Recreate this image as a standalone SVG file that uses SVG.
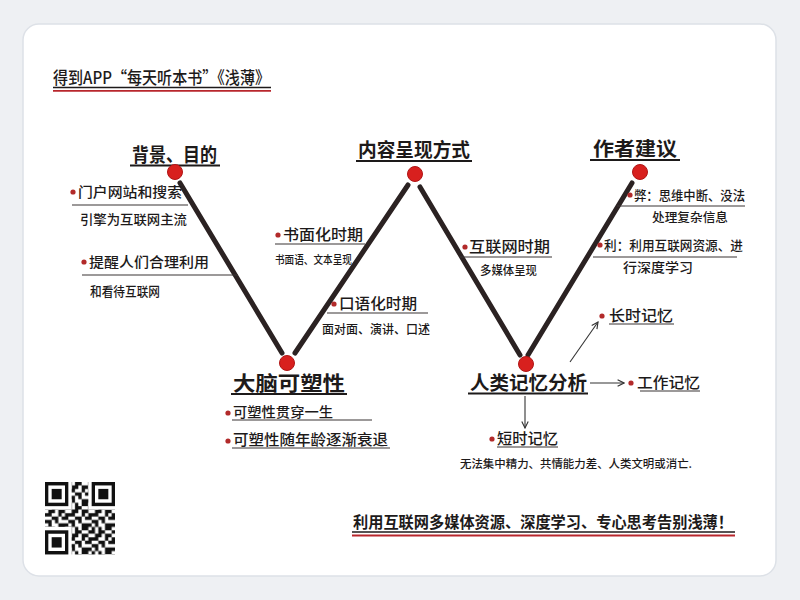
<svg xmlns="http://www.w3.org/2000/svg" width="800" height="600" viewBox="0 0 800 600">
<style>
text{font-family:"Noto Sans CJK SC","Noto Sans",sans-serif;fill:#1d1a1a}
.h{font-size:19px;font-weight:700}
.b{font-size:14px;font-weight:500}
.s{font-size:12px;font-weight:500}
.ul{stroke:#3a3535;stroke-width:1.2;fill:none}
.hul{stroke:#1d1a1a;stroke-width:2;fill:none}
.red{stroke:#b8262c;stroke-width:1.8;fill:none}
.w{stroke:#2b2222;stroke-width:5;stroke-linecap:round;fill:none}
.node{fill:#d8201e;stroke:#b01515;stroke-width:1}
.bul{fill:#b22a2a}
.arr{stroke:#333;stroke-width:1.1;fill:none;marker-end:url(#ah)}
</style>
<defs>
<marker id="ah" viewBox="0 0 10 10" refX="9" refY="5" markerWidth="8" markerHeight="8" markerUnits="userSpaceOnUse" orient="auto">
<path d="M1,1 L9,5 L1,9" fill="none" stroke="#333" stroke-width="1.4"/>
</marker>
<pattern id="qrp" patternUnits="userSpaceOnUse" width="7" height="7">
<path fill="#111" d="M0 0h1v1h-1z M2 0h2v1h-2z M6 0h1v1h-1z M1 1h2v1h-2z M4 1h2v1h-2z M0 2h2v1h-2z M4 2h1v1h-1z M6 2h1v1h-1z M2 3h2v1h-2z M5 3h2v1h-2z M0 4h2v1h-2z M3 4h1v1h-1z M1 5h1v1h-1z M4 5h3v1h-3z M0 6h1v1h-1z M2 6h1v1h-1z M4 6h2v1h-2z"/>
</pattern>
<g id="finder"><rect x="-1" y="-1" width="9" height="9" fill="#fff"/><rect width="7" height="7" fill="#111"/><rect x="1" y="1" width="5" height="5" fill="#fff"/><rect x="2" y="2" width="3" height="3" fill="#111"/></g>
</defs>
<rect width="800" height="600" fill="#eef0f3"/>
<rect x="23" y="24" width="753" height="552" rx="16" fill="#ffffff" stroke="#dde1e7" stroke-width="1.5"/>

<g id="title">
<text x="53" y="84" style="font-size:17px;font-weight:500" textLength="217" lengthAdjust="spacingAndGlyphs">得到APP“每天听本书”《浅薄》</text>
<line class="hul" x1="53" y1="87.5" x2="271" y2="87.5" style="stroke-width:1.5"/>
<line class="red" x1="53" y1="90.8" x2="271" y2="90.8"/>
</g>

<g id="connectors">
<line class="w" x1="180" y1="183" x2="282" y2="353"/>
<line class="w" x1="295" y1="353" x2="408" y2="185"/>
<line class="w" x1="420" y1="187" x2="520" y2="355"/>
<line class="w" x1="528" y1="355" x2="632" y2="183"/>
<line class="arr" x1="570" y1="362" x2="598" y2="322"/>
<line class="arr" x1="590" y1="383" x2="624" y2="383"/>
<line class="arr" x1="525" y1="396" x2="525" y2="428"/>
</g>

<g id="node-background">
<text class="h" x="132" y="162" textLength="85" lengthAdjust="spacingAndGlyphs">背景、目的</text>
<line class="hul" x1="130" y1="165.5" x2="220" y2="165.5"/>
<circle class="node" cx="175" cy="172" r="7.5"/>
<circle class="bul" cx="73" cy="192" r="2.6"/>
<text class="b" x="78" y="197" textLength="104" lengthAdjust="spacingAndGlyphs">门户网站和搜索</text>
<line class="ul" x1="72" y1="205" x2="188" y2="205"/>
<text class="s" x="80" y="224" style="font-size:13px" textLength="107" lengthAdjust="spacingAndGlyphs">引擎为互联网主流</text>
<circle class="bul" cx="84" cy="262" r="2.6"/>
<text class="b" x="89" y="267" textLength="120" lengthAdjust="spacingAndGlyphs">提醒人们合理利用</text>
<line class="ul" x1="82" y1="275" x2="238" y2="275"/>
<text class="s" x="90" y="296" style="font-size:13px" textLength="70" lengthAdjust="spacingAndGlyphs">和看待互联网</text>
</g>

<g id="node-content">
<text class="h" x="358" y="157" textLength="112" lengthAdjust="spacingAndGlyphs">内容呈现方式</text>
<line class="hul" x1="356" y1="161" x2="472" y2="161"/>
<circle class="node" cx="415" cy="174" r="7.5"/>
<circle class="bul" cx="278" cy="235" r="2.6"/>
<text class="b" x="283" y="240" style="font-size:15px" textLength="80" lengthAdjust="spacingAndGlyphs">书面化时期</text>
<line class="ul" x1="275" y1="244" x2="365" y2="244"/>
<text class="s" x="275" y="264" style="font-size:11px" textLength="77" lengthAdjust="spacingAndGlyphs">书面语、文本呈现</text>
<circle class="bul" cx="334" cy="304" r="2.6"/>
<text class="b" x="339" y="309" style="font-size:15px" textLength="78" lengthAdjust="spacingAndGlyphs">口语化时期</text>
<line class="ul" x1="327" y1="313" x2="428" y2="313"/>
<text class="s" x="322" y="334" textLength="108" lengthAdjust="spacingAndGlyphs">面对面、演讲、口述</text>
<circle class="bul" cx="465" cy="247" r="2.6"/>
<text class="b" x="469" y="252" style="font-size:15px" textLength="81" lengthAdjust="spacingAndGlyphs">互联网时期</text>
<line class="ul" x1="460" y1="257" x2="552" y2="257"/>
<text class="s" x="480" y="275" textLength="57" lengthAdjust="spacingAndGlyphs">多媒体呈现</text>
</g>

<g id="node-suggestion">
<text class="h" x="593" y="156" textLength="84" lengthAdjust="spacingAndGlyphs">作者建议</text>
<line class="hul" x1="590" y1="160" x2="680" y2="160"/>
<circle class="node" cx="640" cy="172" r="7.5"/>
<circle class="bul" cx="630" cy="195" r="2.6"/>
<text class="b" x="634" y="200" style="font-size:13px" textLength="111" lengthAdjust="spacingAndGlyphs">弊：思维中断、没法</text>
<line class="ul" x1="617" y1="206" x2="745" y2="206"/>
<text class="s" x="652" y="222" style="font-size:12.5px" textLength="76" lengthAdjust="spacingAndGlyphs">处理复杂信息</text>
<circle class="bul" cx="600" cy="245" r="2.6"/>
<text class="b" x="604" y="250" style="font-size:13px" textLength="139" lengthAdjust="spacingAndGlyphs">利：利用互联网资源、进</text>
<line class="ul" x1="593" y1="257" x2="737" y2="257"/>
<text class="s" x="623" y="272" style="font-size:13px" textLength="70" lengthAdjust="spacingAndGlyphs">行深度学习</text>
</g>

<g id="node-brain">
<circle class="node" cx="287" cy="363" r="7.5"/>
<text class="h" x="233" y="391" style="font-size:20px" textLength="112" lengthAdjust="spacingAndGlyphs">大脑可塑性</text>
<line class="hul" x1="231" y1="394" x2="347" y2="394"/>
<circle class="bul" cx="228" cy="413" r="2.6"/>
<text class="b" x="233" y="417" textLength="100" lengthAdjust="spacingAndGlyphs">可塑性贯穿一生</text>
<line class="ul" x1="232" y1="420" x2="372" y2="420"/>
<circle class="bul" cx="228" cy="441" r="2.6"/>
<text class="b" x="233" y="445" style="font-size:15px" textLength="155" lengthAdjust="spacingAndGlyphs">可塑性随年龄逐渐衰退</text>
<line class="ul" x1="232" y1="448" x2="390" y2="448"/>
</g>

<g id="node-memory">
<circle class="node" cx="526" cy="364" r="7.5"/>
<text class="h" x="470" y="390" textLength="117" lengthAdjust="spacingAndGlyphs">人类记忆分析</text>
<line class="hul" x1="468" y1="393.5" x2="588" y2="393.5"/>
</g>
<g id="node-long">
<circle class="bul" cx="602" cy="316" r="2.6"/>
<text class="b" x="609" y="321" style="font-size:15px" textLength="64" lengthAdjust="spacingAndGlyphs">长时记忆</text>
<line class="ul" x1="609" y1="324" x2="674" y2="324"/>
</g>
<g id="node-work">
<circle class="bul" cx="631" cy="383" r="2.6"/>
<text class="b" x="637" y="388" style="font-size:15px" textLength="63" lengthAdjust="spacingAndGlyphs">工作记忆</text>
<line class="ul" x1="640" y1="391" x2="700" y2="391"/>
</g>
<g id="node-short">
<circle class="bul" cx="492" cy="439" r="2.6"/>
<text class="b" x="497" y="444" style="font-size:15px" textLength="61" lengthAdjust="spacingAndGlyphs">短时记忆</text>
<line class="ul" x1="497" y1="447" x2="558" y2="447"/>
<text class="s" x="460" y="468" style="font-size:11.5px" textLength="232" lengthAdjust="spacingAndGlyphs">无法集中精力、共情能力差、人类文明或消亡.</text>
</g>

<g id="conclusion">
<text class="b" x="353" y="528" style="font-size:15.5px;font-weight:700" textLength="380" lengthAdjust="spacingAndGlyphs">利用互联网多媒体资源、深度学习、专心思考告别浅薄！</text>
<line class="hul" x1="352" y1="532" x2="735" y2="532" style="stroke-width:1.4"/>
<line class="red" x1="352" y1="535.5" x2="735" y2="535.5"/>
</g>

<g id="qrcode" transform="translate(45 482) scale(3.3333 3.45)">
<rect width="21" height="21" fill="url(#qrp)"/>
<use href="#finder"/>
<use href="#finder" x="14"/>
<use href="#finder" y="14"/>
</g>
</svg>
